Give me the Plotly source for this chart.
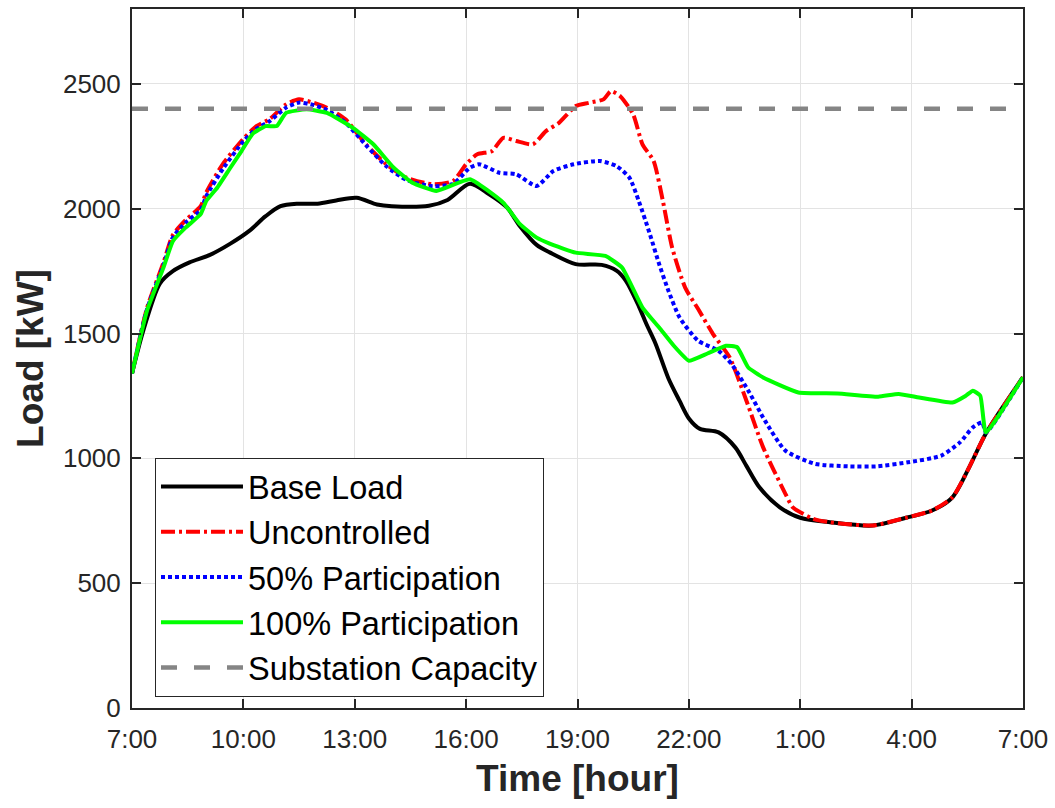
import plotly.graph_objects as go

# ---- data (hours after 7:00, load in kW) ----
tick_vals = [0, 3, 6, 9, 12, 15, 18, 21, 24]
tick_text = ["7:00", "10:00", "13:00", "16:00", "19:00", "22:00", "1:00", "4:00", "7:00"]
y_ticks = [0, 500, 1000, 1500, 2000, 2500]

hours_base = [0, 0.3, 0.75, 1.1, 1.55, 2.1, 2.65, 3.15, 3.6, 4.0, 4.45, 5.0, 5.5, 6.05, 6.6,
              7.0, 8.0, 8.5, 9.1, 9.6, 10.1, 10.45, 10.9, 11.25, 11.95, 12.65, 13.05, 13.3,
              13.65, 13.85, 14.1, 14.45, 14.75, 15.0, 15.3, 15.8, 16.25, 16.55, 16.9, 17.45,
              18.0, 18.8, 19.95, 20.85, 21.55, 22.1, 22.55, 23.0, 24.0]
base_load = [1340, 1510, 1700, 1750, 1785, 1815, 1860, 1910, 1970, 2010, 2020, 2020, 2033, 2044,
             2017, 2010, 2012, 2035, 2100, 2060, 2005, 1930, 1855, 1825, 1778, 1775, 1752, 1712,
             1610, 1540, 1460, 1320, 1230, 1160, 1118, 1104, 1044, 970, 884, 804, 762, 744, 731,
             762, 791, 844, 964, 1100, 1325]

hours_unc = [0, 0.4, 0.85, 1.1, 1.45, 1.85, 2.0, 2.45, 3.0, 3.35, 3.7, 4.15, 4.5, 4.9, 5.25, 5.75,
             6.3, 6.85, 7.4, 8.1, 8.65, 9.0, 9.3, 9.7, 10.0, 10.35, 10.8, 11.15, 11.5, 11.95,
             12.3, 12.7, 12.9, 13.15, 13.5, 13.75, 14.05, 14.3, 14.55, 14.9, 15.25, 15.65,
             16.1, 16.55, 17.0, 17.6, 17.8, 18.35, 18.8, 19.95, 20.85, 21.55, 22.1, 22.55,
             23.0, 24.0]
uncontrolled = [1340, 1600, 1785, 1895, 1955, 2010, 2065, 2180, 2280, 2331, 2358, 2418, 2438,
                2424, 2404, 2358, 2258, 2178, 2124, 2098, 2111, 2178, 2218, 2231, 2284, 2271,
                2258, 2311, 2344, 2411, 2424, 2438, 2471, 2451, 2378, 2258, 2191, 2031, 1844,
                1684, 1598, 1498, 1404, 1231, 1044, 858, 804, 758, 744, 731, 762, 791, 844,
                964, 1100, 1325]

hours_p50 = [0, 0.4, 0.85, 1.1, 1.45, 1.85, 2.0, 2.45, 3.0, 3.35, 3.7, 4.15, 4.5, 4.9, 5.25, 5.75,
             6.3, 6.85, 7.4, 8.1, 8.65, 9.1, 9.35, 9.9, 10.35, 10.9, 11.35, 11.9, 12.6, 13.05,
             13.4, 13.65, 13.95, 14.2, 14.45, 14.75, 15.25, 15.8, 16.15, 16.6, 17.05, 17.6,
             18.4, 19.3, 20.05, 20.9, 21.8, 22.3, 22.65, 22.9, 23.0, 24.0]
part_50 = [1340, 1595, 1775, 1885, 1945, 1995, 2050, 2160, 2270, 2320, 2350, 2405, 2425, 2415,
           2395, 2345, 2255, 2170, 2115, 2090, 2100, 2164, 2178, 2144, 2138, 2091, 2151, 2178,
           2191, 2171, 2124, 2031, 1898, 1778, 1671, 1564, 1471, 1431, 1378, 1271, 1151, 1031,
           978, 968, 968, 984, 1011, 1064, 1124, 1144, 1104, 1325]

hours_p100 = [0, 0.4, 0.85, 1.1, 1.45, 1.85, 2.0, 2.3, 2.65, 2.95, 3.25, 3.6, 3.9, 4.15, 4.7,
              5.25, 5.95, 6.5, 7.05, 7.55, 8.2, 9.1, 10.0, 10.45, 10.9, 11.25, 11.95, 12.75,
              13.2, 13.75, 14.2, 14.6, 15.0, 15.5, 16.0, 16.3, 16.6, 17.0, 17.95, 19.0, 20.1,
              20.65, 21.2, 22.1, 22.45, 22.65, 22.85, 23.0, 24.0]
part_100 = [1340, 1590, 1765, 1870, 1925, 1978, 2031, 2085, 2164, 2231, 2300, 2331, 2331, 2384,
            2398, 2384, 2324, 2258, 2164, 2104, 2071, 2118, 2024, 1938, 1884, 1860, 1824, 1811,
            1764, 1604, 1524, 1450, 1391, 1420, 1451, 1445, 1364, 1324, 1264, 1260, 1247, 1258,
            1244, 1224, 1250, 1271, 1251, 1104, 1325]

capacity_hours = [0, 24]
capacity = [2400, 2400]

FONT = "Liberation Sans, Arial, sans-serif"

fig = go.Figure()
fig.add_trace(go.Scatter(x=hours_base, y=base_load, name="Base Load", mode="lines",
                         line=dict(color="#000000", width=4, shape="spline", smoothing=0.8)))
fig.add_trace(go.Scatter(x=hours_unc, y=uncontrolled, name="Uncontrolled", mode="lines",
                         line=dict(color="#ff0000", width=4, dash="14px,4px,3px,4px",
                                   shape="spline", smoothing=0.6)))
fig.add_trace(go.Scatter(x=hours_p50, y=part_50, name="50% Participation", mode="lines",
                         line=dict(color="#0000ff", width=4, dash="4px,3px",
                                   shape="spline", smoothing=0.6)))
fig.add_trace(go.Scatter(x=hours_p100, y=part_100, name="100% Participation", mode="lines",
                         line=dict(color="#00ff00", width=4, shape="spline", smoothing=0.4)))
fig.add_trace(go.Scatter(x=capacity_hours, y=capacity, name="Substation Capacity", mode="lines",
                         line=dict(color="#858585", width=4.5, dash="16px,17px")))

axis_common = dict(
    showline=True, linecolor="#262626", linewidth=2, mirror="ticks",
    ticks="inside", ticklen=9, tickwidth=2, tickcolor="#262626",
    showgrid=True, gridcolor="#e3e3e3", gridwidth=1, zeroline=False,
    tickfont=dict(family=FONT, size=26, color="#262626"),
)

fig.update_layout(
    width=1055, height=808,
    margin=dict(l=132, r=31, t=7, b=100),
    paper_bgcolor="white", plot_bgcolor="white",
    xaxis=dict(range=[0, 24], tickvals=tick_vals, ticktext=tick_text, ticklabelstandoff=7,
               title=dict(text="<b>Time [hour]</b>", font=dict(family=FONT, size=37, color="#262626"),
                          standoff=12),
               **axis_common),
    yaxis=dict(range=[0, 2800], tickvals=y_ticks, ticklabelstandoff=4,
               title=dict(text="<b>Load [kW]</b>", font=dict(family=FONT, size=37, color="#262626"),
                          standoff=8),
               **axis_common),
    legend=dict(x=0.0258, y=0.358, xanchor="left", yanchor="top",
                bgcolor="white", bordercolor="#262626", borderwidth=1,
                font=dict(family=FONT, size=32.5, color="#000000"),
                itemwidth=82, tracegroupgap=0),
    showlegend=True,
)

fig.write_html("out.html")
